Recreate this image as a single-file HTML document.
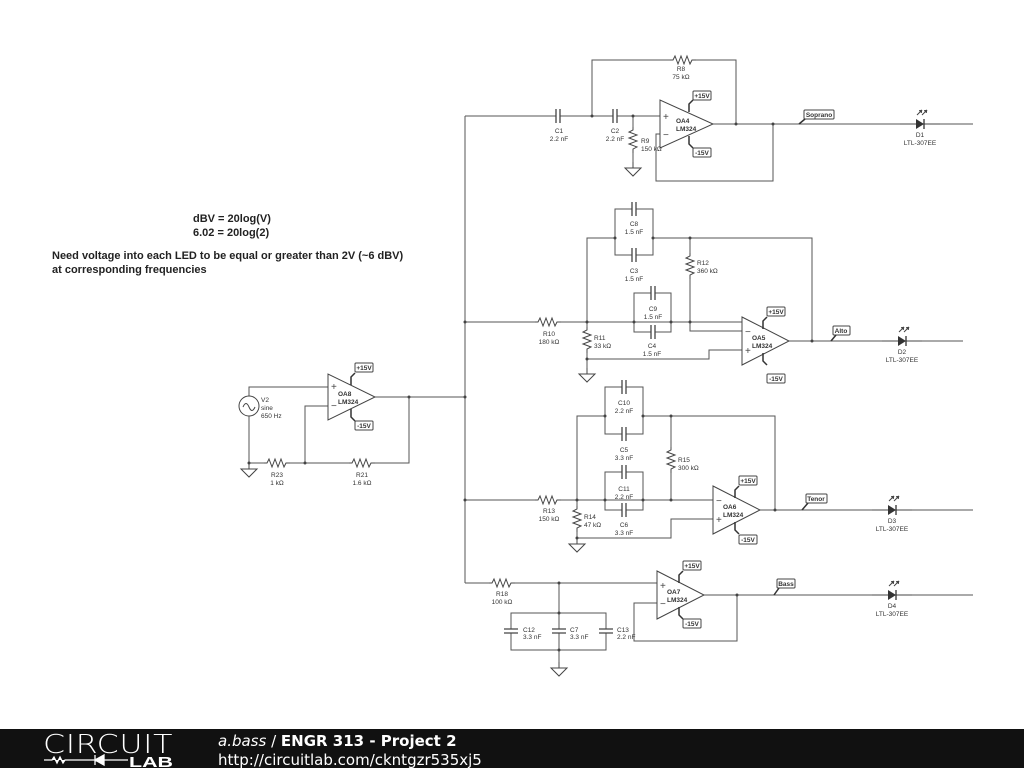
<!DOCTYPE html>
<html><head><meta charset="utf-8"><style>
html,body{margin:0;padding:0;background:#fff;}
body{width:1024px;height:768px;overflow:hidden;position:relative;font-family:"Liberation Sans",sans-serif;}
svg{position:absolute;left:0;top:0;}
.t{font-size:6.5px;fill:#333;text-anchor:middle;font-family:"Liberation Sans",sans-serif;}
.tl{font-size:6.5px;fill:#333;font-family:"Liberation Sans",sans-serif;}
</style></head><body>
<svg width="1024" height="768" viewBox="0 0 1024 768">
<defs>
<g id="rh"><rect x="-12" y="-5" width="24" height="10" fill="#fff"/><path d="M-13 0 L-10 0 L-8 -4 L-5 4 L-2 -4 L1 4 L4 -4 L7 4 L9 0 L13 0" fill="none" stroke="#444" stroke-width="1"/></g>
<g id="rv"><rect x="-5" y="-12" width="10" height="24" fill="#fff"/><path d="M0 -13 L0 -10 L-4 -8 L4 -5 L-4 -2 L4 1 L-4 4 L4 7 L0 9 L0 13" fill="none" stroke="#444" stroke-width="1"/></g>
<g id="ch"><rect x="-2" y="-4" width="4" height="8" fill="#fff"/><path d="M-2 -7 V7 M2 -7 V7" stroke="#444" stroke-width="1.3"/></g>
<g id="cv"><rect x="-4" y="-2" width="8" height="4" fill="#fff"/><path d="M-7 -2 H7 M-7 2 H7" stroke="#444" stroke-width="1.3"/></g>
<g id="gnd"><path d="M0 0 V6 M-8 6 H8 L0 14 Z" fill="#fff" stroke="#444" stroke-width="1"/></g>
<g id="led"><path d="M-20 0 H20" stroke="#444"/><path d="M-4 -5 L4 0 L-4 5 Z" fill="#333"/><path d="M4 -5 V5" stroke="#333" stroke-width="1.3"/><path d="M-3 -9 L2 -14 M2 -9 L7 -14" stroke="#444" stroke-width="1"/><path d="M2 -14 l-3 0.5 l2.5 2.5 Z M7 -14 l-3 0.5 l2.5 2.5 Z" fill="#444" stroke="#444" stroke-width="0.5"/></g>
</defs>
<g stroke="#555" stroke-width="1" fill="none">
<path d="M465 116 V583"/>
<path d="M465 116 H660 M592 116 V60 H736 V124 M633 116 V165 M713 124 H973 M660 134 H656 V181 H773 V124"/>
<path d="M465 322 H742 M587 322 V372 M615 238 H587 V322 M653 238 H812 V341 M690 238 V331 H742 M742 350 H709 V359 H587 M789 341 H963"/>
<rect x="615" y="209" width="38" height="46"/>
<rect x="634" y="293" width="37" height="39"/>
<path d="M465 500 H713 M577 500 V545 M605 416 H577 V500 M643 416 H775 V510 M671 416 V500 M713 519 H671 V538 H577 M760 510 H973"/>
<rect x="605" y="387" width="38" height="47"/>
<rect x="605" y="472" width="38" height="38"/>
<path d="M465 583 H657 M559 583 V662 M657 603 H634 V641 H737 V595 M704 595 H973"/>
<rect x="511" y="613" width="95" height="37"/>
<path d="M375 397 H465 M328 387 H249 V463 H409 V397 M328 406 H305 V463"/>
</g>
<g fill="#444">
<circle cx="592" cy="116" r="1.5"/><circle cx="633" cy="116" r="1.5"/><circle cx="736" cy="124" r="1.5"/><circle cx="773" cy="124" r="1.5"/>
<circle cx="465" cy="322" r="1.5"/><circle cx="587" cy="322" r="1.5"/><circle cx="634" cy="322" r="1.5"/><circle cx="671" cy="322" r="1.5"/><circle cx="690" cy="322" r="1.5"/><circle cx="615" cy="238" r="1.5"/><circle cx="653" cy="238" r="1.5"/><circle cx="690" cy="238" r="1.5"/><circle cx="812" cy="341" r="1.5"/><circle cx="587" cy="359" r="1.5"/>
<circle cx="465" cy="500" r="1.5"/><circle cx="577" cy="500" r="1.5"/><circle cx="605" cy="500" r="1.5"/><circle cx="643" cy="500" r="1.5"/><circle cx="671" cy="500" r="1.5"/><circle cx="605" cy="416" r="1.5"/><circle cx="643" cy="416" r="1.5"/><circle cx="671" cy="416" r="1.5"/><circle cx="775" cy="510" r="1.5"/><circle cx="577" cy="538" r="1.5"/>
<circle cx="559" cy="583" r="1.5"/><circle cx="559" cy="613" r="1.5"/><circle cx="559" cy="650" r="1.5"/><circle cx="737" cy="595" r="1.5"/>
<circle cx="465" cy="397" r="1.5"/><circle cx="409" cy="397" r="1.5"/><circle cx="305" cy="463" r="1.5"/><circle cx="249" cy="463" r="1.5"/>
</g>
<use href="#ch" x="558" y="116"/><use href="#ch" x="615" y="116"/><use href="#rh" x="683" y="60"/><use href="#rv" x="633" y="140"/><use href="#gnd" x="633" y="162"/>
<use href="#rh" x="548" y="322"/><use href="#rv" x="587" y="340"/><use href="#gnd" x="587" y="368"/><use href="#rv" x="690" y="266"/>
<use href="#ch" x="634" y="209"/><use href="#ch" x="634" y="255"/><use href="#ch" x="653" y="293"/><use href="#ch" x="653" y="332"/>
<use href="#rh" x="548" y="500"/><use href="#rv" x="577" y="519"/><use href="#gnd" x="577" y="538"/><use href="#rv" x="671" y="460"/>
<use href="#ch" x="624" y="387"/><use href="#ch" x="624" y="434"/><use href="#ch" x="624" y="472"/><use href="#ch" x="624" y="510"/>
<use href="#rh" x="502" y="583"/><use href="#cv" x="511" y="631"/><use href="#cv" x="559" y="631"/><use href="#cv" x="606" y="631"/><use href="#gnd" x="559" y="662"/>
<use href="#rh" x="277" y="463"/><use href="#rh" x="362" y="463"/><use href="#gnd" x="249" y="463"/>
<use href="#led" x="920" y="124"/><use href="#led" x="902" y="341"/><use href="#led" x="892" y="510"/><use href="#led" x="892" y="595"/>
<circle cx="249" cy="406" r="10" fill="#fff" stroke="#444"/>
<path d="M243 407 q3 -7 6 0 t6 0" fill="none" stroke="#444"/>
<g stroke="#444" fill="#fff">
<polygon points="660,100 660,148 713,124"/>
<polygon points="742,317 742,365 789,341"/>
<polygon points="713,486 713,534 760,510"/>
<polygon points="657,571 657,619 704,595"/>
<polygon points="328,374 328,420 375,397"/>
</g>
<g font-family="Liberation Sans" font-size="10" fill="#444">
<text x="663" y="120">+</text><text x="663" y="138">−</text>
<text x="745" y="335">−</text><text x="745" y="354">+</text>
<text x="716" y="504">−</text><text x="716" y="523">+</text>
<text x="660" y="589">+</text><text x="660" y="607">−</text>
<text x="331" y="390">+</text><text x="331" y="409">−</text>
</g>
<g class="tl" font-weight="bold">
<text x="676" y="123">OA4</text><text x="676" y="131">LM324</text>
<text x="752" y="340">OA5</text><text x="752" y="348">LM324</text>
<text x="723" y="509">OA6</text><text x="723" y="517">LM324</text>
<text x="667" y="594">OA7</text><text x="667" y="602">LM324</text>
<text x="338" y="396">OA8</text><text x="338" y="404">LM324</text>
</g>
<g stroke="#444" fill="#fff">
<rect x="693" y="91" width="18" height="9" rx="1"/><rect x="693" y="148" width="18" height="9" rx="1"/>
<rect x="767" y="307" width="18" height="9" rx="1"/><rect x="767" y="374" width="18" height="9" rx="1"/>
<rect x="739" y="476" width="18" height="9" rx="1"/><rect x="739" y="535" width="18" height="9" rx="1"/>
<rect x="683" y="561" width="18" height="9" rx="1"/><rect x="683" y="619" width="18" height="9" rx="1"/>
<rect x="355" y="363" width="18" height="9" rx="1"/><rect x="355" y="421" width="18" height="9" rx="1"/>
<rect x="804" y="110" width="30" height="9" rx="1"/><rect x="833" y="326" width="17" height="9" rx="1"/>
<rect x="806" y="494" width="21" height="9" rx="1"/><rect x="777" y="579" width="18" height="9" rx="1"/>
</g>
<g stroke="#333" stroke-width="1.5" fill="none">
<path d="M689 112 l0 -8 l4 -4"/><path d="M689 136 l0 8 l4 4"/>
<path d="M763 329 l0 -8 l4 -4"/><path d="M763 353 l0 8 l4 4"/>
<path d="M735 498 l0 -8 l4 -4"/><path d="M735 522 l0 8 l4 4"/>
<path d="M679 583 l0 -8 l4 -4"/><path d="M679 607 l0 8 l4 4"/>
<path d="M351 385 l0 -8 l4 -4"/><path d="M351 409 l0 8 l4 4"/>
<path d="M799 124 l6 -5"/><path d="M831 341 l5 -6"/><path d="M802 510 l6 -7"/><path d="M774 595 l5 -7"/>
</g>
<g class="t" font-weight="bold">
<text x="702" y="98">+15V</text><text x="702" y="155">-15V</text>
<text x="776" y="314">+15V</text><text x="776" y="381">-15V</text>
<text x="748" y="483">+15V</text><text x="748" y="542">-15V</text>
<text x="692" y="568">+15V</text><text x="692" y="626">-15V</text>
<text x="364" y="370">+15V</text><text x="364" y="428">-15V</text>
<text x="819" y="117">Soprano</text><text x="841" y="333">Alto</text><text x="816" y="501">Tenor</text><text x="786" y="586">Bass</text>
</g>
<g class="t">
<text x="681" y="71">R8</text><text x="681" y="79">75 kΩ</text>
<text x="559" y="133">C1</text><text x="559" y="141">2.2 nF</text>
<text x="615" y="133">C2</text><text x="615" y="141">2.2 nF</text>
<text x="920" y="137">D1</text><text x="920" y="145">LTL-307EE</text>
<text x="634" y="226">C8</text><text x="634" y="234">1.5 nF</text>
<text x="634" y="273">C3</text><text x="634" y="281">1.5 nF</text>
<text x="653" y="311">C9</text><text x="653" y="319">1.5 nF</text>
<text x="652" y="348">C4</text><text x="652" y="356">1.5 nF</text>
<text x="549" y="336">R10</text><text x="549" y="344">180 kΩ</text>
<text x="902" y="354">D2</text><text x="902" y="362">LTL-307EE</text>
<text x="624" y="405">C10</text><text x="624" y="413">2.2 nF</text>
<text x="624" y="452">C5</text><text x="624" y="460">3.3 nF</text>
<text x="624" y="491">C11</text><text x="624" y="499">2.2 nF</text>
<text x="624" y="527">C6</text><text x="624" y="535">3.3 nF</text>
<text x="549" y="513">R13</text><text x="549" y="521">150 kΩ</text>
<text x="892" y="523">D3</text><text x="892" y="531">LTL-307EE</text>
<text x="502" y="596">R18</text><text x="502" y="604">100 kΩ</text>
<text x="892" y="608">D4</text><text x="892" y="616">LTL-307EE</text>
<text x="277" y="477">R23</text><text x="277" y="485">1 kΩ</text>
<text x="362" y="477">R21</text><text x="362" y="485">1.6 kΩ</text>
</g>
<g class="tl">
<text x="641" y="143">R9</text><text x="641" y="151">150 kΩ</text>
<text x="697" y="265">R12</text><text x="697" y="273">360 kΩ</text>
<text x="594" y="340">R11</text><text x="594" y="348">33 kΩ</text>
<text x="678" y="462">R15</text><text x="678" y="470">300 kΩ</text>
<text x="584" y="519">R14</text><text x="584" y="527">47 kΩ</text>
<text x="523" y="632">C12</text><text x="523" y="639">3.3 nF</text>
<text x="570" y="632">C7</text><text x="570" y="639">3.3 nF</text>
<text x="617" y="632">C13</text><text x="617" y="639">2.2 nF</text>
<text x="261" y="402">V2</text><text x="261" y="410">sine</text><text x="261" y="418">650 Hz</text>
</g>
<g font-family="Liberation Sans" font-weight="bold" font-size="11" fill="#222">
<text x="193" y="222">dBV = 20log(V)</text>
<text x="193" y="236">6.02 = 20log(2)</text>
<text x="52" y="259">Need voltage into each LED to be equal or greater than 2V (~6 dBV)</text>
<text x="52" y="273"> at corresponding frequencies</text>
</g>
<rect x="0" y="729" width="1024" height="39" fill="#111"/>
<text x="43" y="753" font-family="DejaVu Sans" font-size="26" fill="#fff" letter-spacing="0.5" font-weight="200" textLength="130" lengthAdjust="spacingAndGlyphs">CIRCUIT</text>
<path d="M44 760 H52 l2 -3 l3 6 l3 -6 l3 6 l2 -3 H95 M95 755 V765 M95 760 L104 755 V765 Z M104 755 V765 M104 760 H128" stroke="#fff" fill="#fff" stroke-width="1.3"/>
<text x="129" y="767" font-family="Liberation Sans" font-weight="bold" font-size="15" fill="#fff" textLength="44" lengthAdjust="spacingAndGlyphs">LAB</text>
<text x="218" y="746" font-family="DejaVu Sans" font-size="15" fill="#fff"><tspan font-style="italic">a.bass</tspan> / <tspan font-weight="bold">ENGR 313 - Project 2</tspan></text>
<text x="218" y="765" font-family="DejaVu Sans" font-size="15" fill="#fff">http://circuitlab.com/ckntgzr535xj5</text>
</svg>
</body></html>
